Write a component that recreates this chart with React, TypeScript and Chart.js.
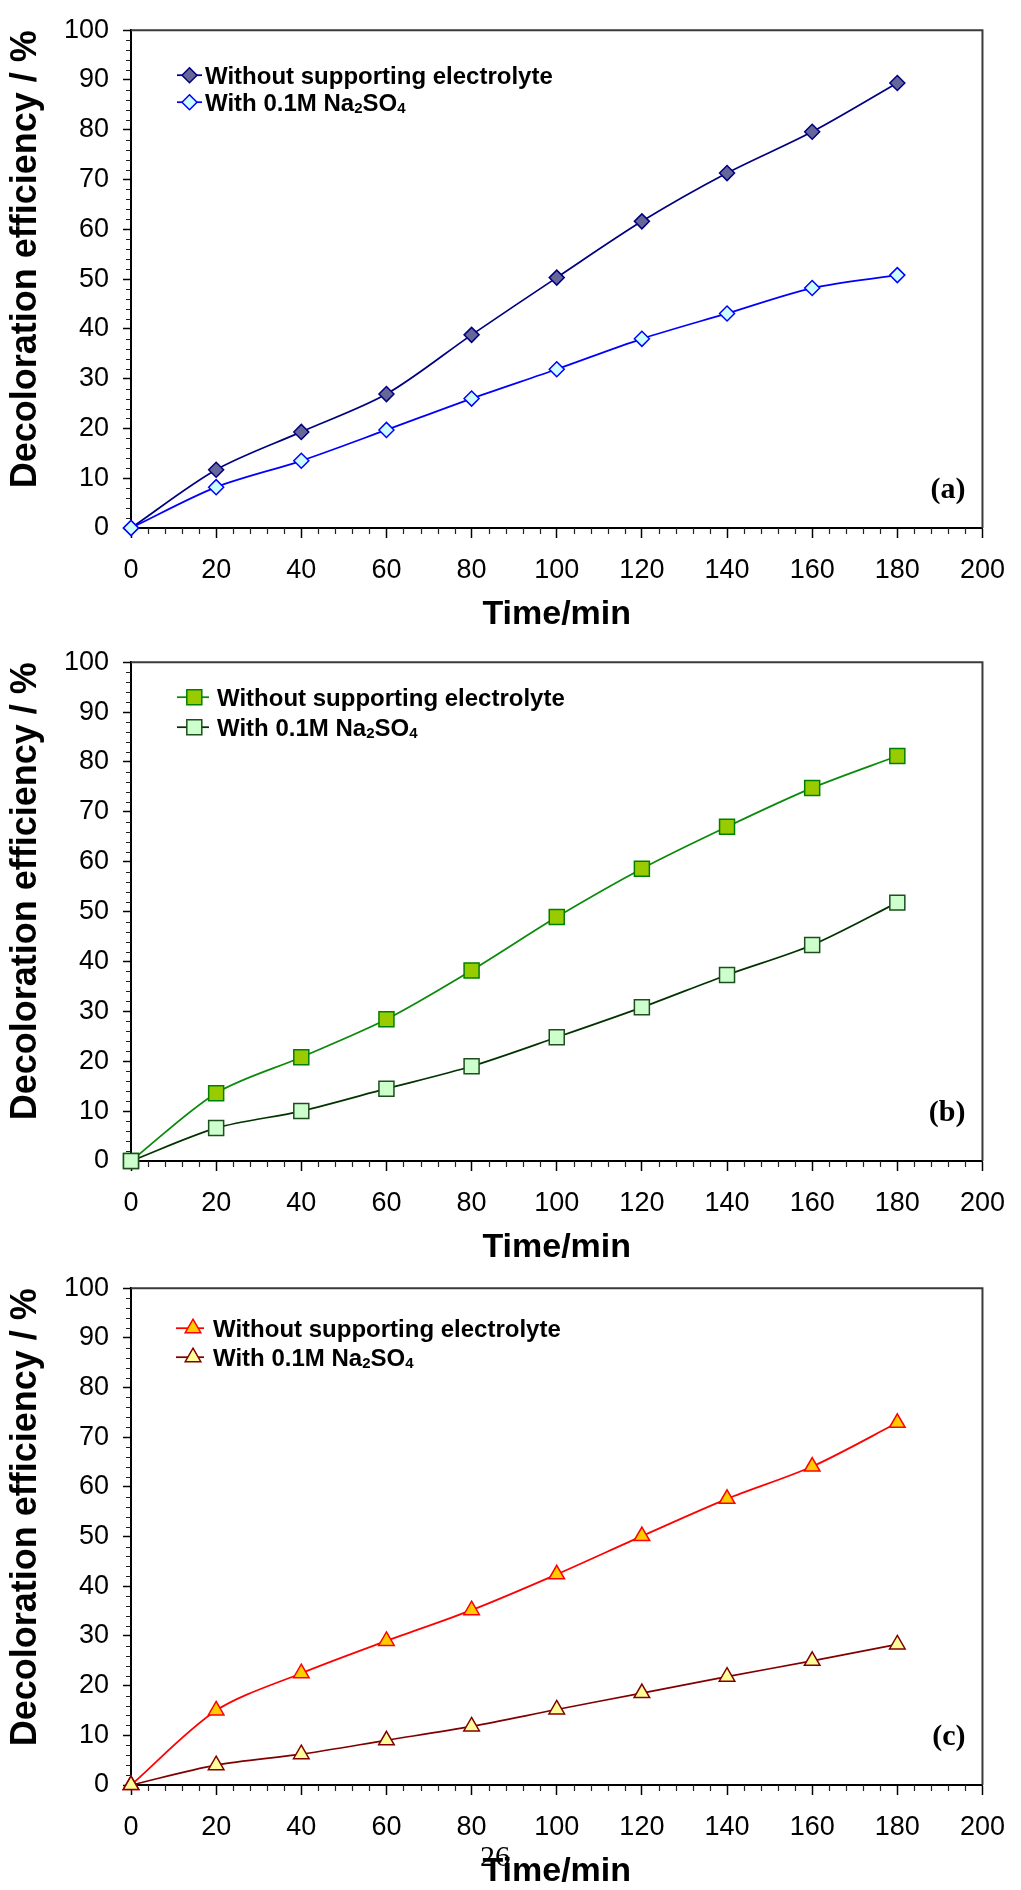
import React, { useEffect, useRef } from 'react';
import { Chart, registerables } from 'chart.js';
import { drawPoint } from 'chart.js/helpers';

Chart.register(...registerables);

// ---------------- data ----------------
const timeMin = [0, 20, 40, 60, 80, 100, 120, 140, 160, 180];
const seriesLabels = ['Without supporting electrolyte', 'With 0.1M Na₂SO₄'];
const panelTags = ['(a)', '(b)', '(c)'];
const xAxisTitle = 'Time/min';
const yAxisTitle = 'Decoloration efficiency / %';
const pageNumber = '26';
const xMin = 0;
const xMax = 200;
const xMajorStep = 20;
const xMinorStep = 4;
const yMin = 0;
const yMax = 100;
const yMajorStep = 10;
const yMinorStep = 2;

const panelAWithout = [0, 11.7, 19.3, 26.9, 38.8, 50.3, 61.6, 71.3, 79.6, 89.4];
const panelAWith = [0, 8.2, 13.5, 19.7, 26.0, 31.9, 38.0, 43.1, 48.2, 50.8];
const panelBWithout = [0, 13.6, 20.8, 28.4, 38.2, 48.9, 58.6, 67.0, 74.8, 81.2];
const panelBWith = [0, 6.6, 10.0, 14.5, 19.0, 24.8, 30.8, 37.3, 43.3, 51.8];
const panelCWithout = [0, 15.0, 22.5, 29.0, 35.2, 42.4, 50.1, 57.6, 64.1, 72.9];
const panelCWith = [0, 4.0, 6.2, 9.0, 11.8, 15.2, 18.5, 21.8, 25.0, 28.3];

// ---------------- styles / layout ----------------
const SANS = '"Liberation Sans", Arial, Helvetica, sans-serif';
const SERIF = '"Liberation Serif", "Times New Roman", Times, serif';

type SeriesStyle = { pointStyle: any; radius: number; fill: string; border: string; line: string };
type PanelCfg = {
  canvasTop: number;
  areaH: number;
  tag: string;
  tagAt: { x: number; y: number };
  legend: { lineStart: number; lineEnd: number; markerX: number; textX: number; rows: number[] };
  values: number[][];
  styles: SeriesStyle[];
};

const AREA_TOP = 25;
const X_AXIS_H = 105;
const Y_AXIS_W = 131;
const RIGHT_PAD = 29;

const panels: PanelCfg[] = [
  {
    canvasTop: 0,
    areaH: 503,
    tag: panelTags[0],
    tagAt: { x: 196, y: 7.6 },
    legend: { lineStart: 46, lineEnd: 71, markerX: 58.5, textX: 74, rows: [45, 72] },
    values: [panelAWithout, panelAWith],
    styles: [
      { pointStyle: 'rectRot', radius: 7.5, fill: '#666699', border: '#000080', line: '#000080' },
      { pointStyle: 'rectRot', radius: 7.5, fill: '#CCFFFF', border: '#0000FF', line: '#0000FF' },
    ],
  },
  {
    canvasTop: 632,
    areaH: 504,
    tag: panelTags[1],
    tagAt: { x: 196, y: 9.6 },
    legend: { lineStart: 46, lineEnd: 78, markerX: 63.3, textX: 86, rows: [35, 65] },
    values: [panelBWithout, panelBWith],
    styles: [
      { pointStyle: 'rect', radius: 10.6, fill: '#99CC00', border: '#008000', line: '#0A8A0A' },
      { pointStyle: 'rect', radius: 10.6, fill: '#CCFFCC', border: '#1E4D1E', line: '#003300' },
    ],
  },
  {
    canvasTop: 1258,
    areaH: 502,
    tag: panelTags[2],
    tagAt: { x: 196, y: 9.6 },
    legend: { lineStart: 45, lineEnd: 73, markerX: 62, textX: 82, rows: [40, 69] },
    values: [panelCWithout, panelCWith],
    styles: [
      { pointStyle: 'triangle', radius: 9, fill: '#FFCC00', border: '#FF0000', line: '#FF0000' },
      { pointStyle: 'triangle', radius: 9, fill: '#FFFF99', border: '#800000', line: '#800000' },
    ],
  },
];

const SUBS = '₀₁₂₃₄₅₆₇₈₉';

function drawRichText(ctx: CanvasRenderingContext2D, text: string, x: number, baseY: number, size: number) {
  const runs: { sub: boolean; s: string }[] = [];
  for (const ch of Array.from(text)) {
    const si = SUBS.indexOf(ch);
    const sub = si >= 0;
    const c = sub ? String(si) : ch;
    const last = runs[runs.length - 1];
    if (last && last.sub === sub) last.s += c;
    else runs.push({ sub, s: c });
  }
  let cx = x;
  ctx.textAlign = 'left';
  ctx.textBaseline = 'alphabetic';
  for (const r of runs) {
    const sz = r.sub ? Math.round(size * 0.64) : size;
    ctx.font = `bold ${sz}px ${SANS}`;
    ctx.fillText(r.s, cx, baseY + (r.sub ? 2 : 0));
    cx += ctx.measureText(r.s).width;
  }
}

function PanelChart({ cfg }: { cfg: PanelCfg }) {
  const ref = useRef<HTMLCanvasElement | null>(null);
  const canvasH = AREA_TOP + cfg.areaH + X_AXIS_H;

  useEffect(() => {
    const canvas = ref.current;
    if (!canvas) return;

    const framePlugin = {
      id: 'frameAndMinor',
      beforeDatasetsDraw(chart: any) {
        const { ctx, chartArea } = chart;
        const xs = chart.scales.x;
        const ys = chart.scales.y;
        ctx.save();
        ctx.strokeStyle = '#3a3a3a';
        ctx.lineWidth = 2;
        ctx.beginPath();
        ctx.moveTo(chartArea.left, chartArea.top);
        ctx.lineTo(chartArea.right, chartArea.top);
        ctx.lineTo(chartArea.right, chartArea.bottom);
        ctx.stroke();
        ctx.strokeStyle = '#222';
        ctx.lineWidth = 1.2;
        ctx.beginPath();
        for (let v = yMin; v <= yMax; v += yMinorStep) {
          if (v % yMajorStep === 0) continue;
          const py = Math.round(ys.getPixelForValue(v)) + 0.5;
          ctx.moveTo(chartArea.left - 5, py);
          ctx.lineTo(chartArea.left, py);
        }
        for (let v = xMin; v <= xMax; v += xMinorStep) {
          if (v % xMajorStep === 0) continue;
          const px = Math.round(xs.getPixelForValue(v)) + 0.5;
          ctx.moveTo(px, chartArea.bottom);
          ctx.lineTo(px, chartArea.bottom + 6);
        }
        ctx.stroke();
        ctx.restore();
      },
    };

    const overlayPlugin = {
      id: 'legendAndTag',
      afterDatasetsDraw(chart: any) {
        const { ctx, chartArea } = chart;
        const xs = chart.scales.x;
        const ys = chart.scales.y;
        ctx.save();
        chart.data.datasets.forEach((ds: any, i: number) => {
          const st = cfg.styles[i];
          const rowY = chartArea.top + cfg.legend.rows[i];
          ctx.strokeStyle = st.line;
          ctx.lineWidth = 1.75;
          ctx.beginPath();
          ctx.moveTo(chartArea.left + cfg.legend.lineStart, rowY);
          ctx.lineTo(chartArea.left + cfg.legend.lineEnd, rowY);
          ctx.stroke();
          ctx.fillStyle = st.fill;
          ctx.strokeStyle = st.border;
          ctx.lineWidth = 1.5;
          drawPoint(ctx, { pointStyle: st.pointStyle, radius: st.radius, rotation: 0, borderWidth: 1.5 } as any,
            chartArea.left + cfg.legend.markerX, rowY);
          ctx.fillStyle = '#000';
          drawRichText(ctx, ds.label, chartArea.left + cfg.legend.textX, rowY + 8.6, 24);
        });
        ctx.fillStyle = '#000';
        ctx.font = `bold 30px ${SERIF}`;
        ctx.textAlign = 'right';
        ctx.textBaseline = 'middle';
        ctx.fillText(cfg.tag, xs.getPixelForValue(cfg.tagAt.x), ys.getPixelForValue(cfg.tagAt.y));
        ctx.restore();
      },
    };

    const datasets = cfg.values.map((vals, i) => {
      const st = cfg.styles[i];
      return {
        label: seriesLabels[i],
        data: timeMin.map((t, k) => ({ x: t, y: vals[k] })),
        borderColor: st.line,
        backgroundColor: st.fill,
        borderWidth: 1.75,
        pointStyle: st.pointStyle,
        pointRadius: st.radius,
        pointHoverRadius: st.radius,
        pointBackgroundColor: st.fill,
        pointBorderColor: st.border,
        pointBorderWidth: 1.5,
        tension: 0.3,
        fill: false,
        clip: false as any,
        order: i === 0 ? 1 : 0,
      };
    });

    const chart = new Chart(canvas, {
      type: 'line',
      data: { datasets },
      options: {
        animation: false,
        responsive: false,
        devicePixelRatio: 1,
        events: [],
        layout: { padding: { left: 0, right: RIGHT_PAD, top: AREA_TOP, bottom: 0 } },
        plugins: {
          legend: { display: false },
          tooltip: { enabled: false },
          title: { display: false },
        },
        scales: {
          x: {
            type: 'linear',
            min: xMin,
            max: xMax,
            afterFit: (s: any) => {
              s.height = X_AXIS_H;
            },
            ticks: {
              stepSize: xMajorStep,
              autoSkip: false,
              maxRotation: 0,
              color: '#000',
              padding: 16,
              font: { family: SANS, size: 27 },
            },
            grid: {
              drawOnChartArea: false,
              drawTicks: true,
              tickLength: 10,
              tickColor: '#000',
              tickWidth: 1.5,
            },
            border: { display: true, color: '#000', width: 2 },
            title: {
              display: true,
              text: xAxisTitle,
              color: '#000',
              font: { family: SANS, size: 34, weight: 'bold', lineHeight: 1 },
              padding: { top: 0, bottom: 1 },
            },
          },
          y: {
            type: 'linear',
            min: yMin,
            max: yMax,
            afterFit: (s: any) => {
              s.width = Y_AXIS_W;
            },
            ticks: {
              stepSize: yMajorStep,
              color: '#000',
              padding: 14,
              font: { family: SANS, size: 27 },
            },
            grid: {
              drawOnChartArea: false,
              drawTicks: true,
              tickLength: 8,
              tickColor: '#000',
              tickWidth: 1.5,
            },
            border: { display: true, color: '#000', width: 2 },
            title: {
              display: true,
              text: yAxisTitle,
              align: 'end',
              color: '#000',
              font: { family: SANS, size: 36, weight: 'bold', lineHeight: 1 },
              padding: { top: 8, bottom: 0 },
            },
          },
        },
      } as any,
      plugins: [framePlugin, overlayPlugin],
    });

    return () => {
      chart.destroy();
    };
  }, [cfg]);

  return (
    <canvas
      ref={ref}
      width={1021}
      height={canvasH}
      style={{ position: 'absolute', left: 0, top: cfg.canvasTop, width: 1021, height: canvasH, display: 'block' }}
    />
  );
}

export default function App() {
  return (
    <div
      style={{
        position: 'absolute',
        left: 0,
        top: 0,
        width: 1021,
        height: 1890,
        overflow: 'hidden',
        background: '#ffffff',
      }}
    >
      {panels.map((p, i) => (
        <PanelChart key={i} cfg={p} />
      ))}
      <div
        style={{
          position: 'absolute',
          left: 480,
          top: 1840,
          font: `30px ${SERIF}`,
          lineHeight: '32px',
          color: '#000',
        }}
      >
        {pageNumber}
      </div>
    </div>
  );
}
